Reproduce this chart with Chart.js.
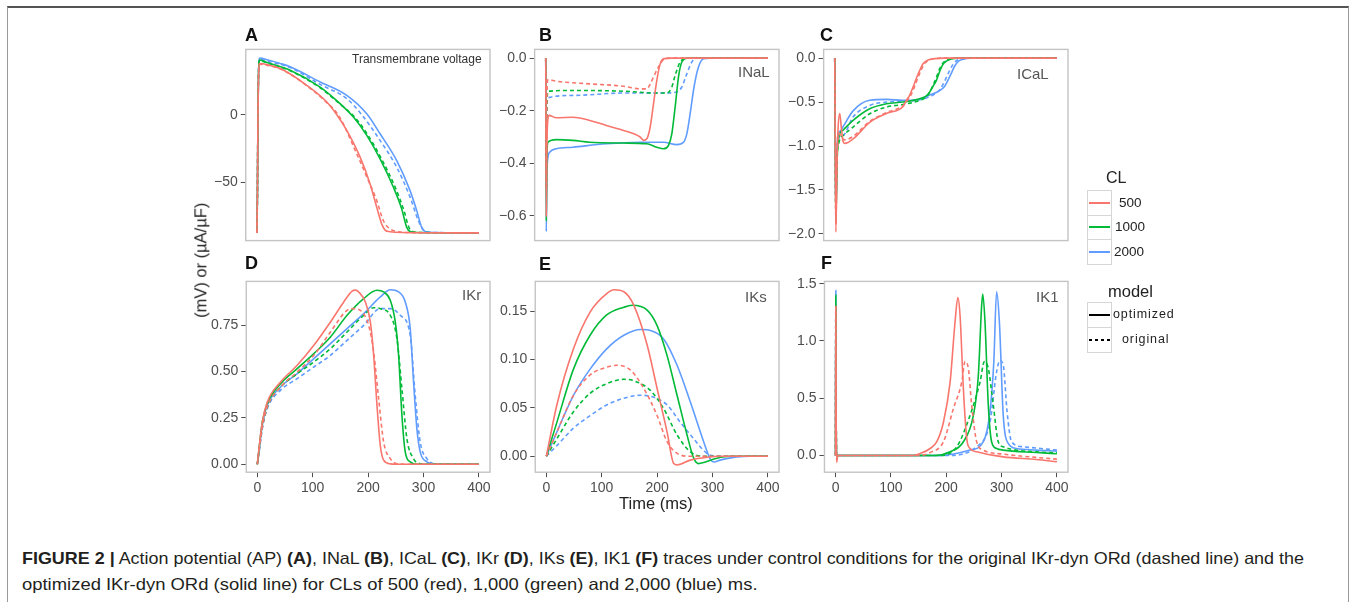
<!DOCTYPE html>
<html><head><meta charset="utf-8">
<script src="https://cdn.jsdelivr.net/npm/chart.js@4"></script>
<style>
html,body{margin:0;padding:0;background:#fff;}
body{width:1358px;height:602px;position:relative;overflow:hidden;font-family:"Liberation Sans",Arial,sans-serif;}
.t{position:absolute;white-space:nowrap;line-height:1;}
#frame{position:absolute;left:7px;top:6px;width:1342px;height:700px;border:1.5px solid #9a9a9a;border-top:2px solid #555;box-sizing:border-box;}
.key{position:absolute;left:1087px;width:25px;border:1px solid #d6d6d6;box-sizing:border-box;background:#fff;}
.kl{position:absolute;left:1089px;width:21px;height:2px;}
.cap{position:absolute;left:22px;white-space:nowrap;font-size:16.5px;line-height:1;color:#231f20;transform-origin:0 50%;}
.cap b{font-weight:bold;}
</style></head><body>
<div id="frame"></div>
<script>
// ---------- axis ticks ----------
const xTicks = [0, 100, 200, 300, 400];
const xLabels = ['0', '100', '200', '300', '400'];
const ticksA = [-50, 0];            const labelsA = ['\u221250', '0'];
const ticksB = [-0.6, -0.4, -0.2, 0]; const labelsB = ['\u22120.6', '\u22120.4', '\u22120.2', '0.0'];
const ticksC = [-2, -1.5, -1, -0.5, 0]; const labelsC = ['\u22122.0', '\u22121.5', '\u22121.0', '\u22120.5', '0.0'];
const ticksD = [0, 0.25, 0.5, 0.75];  const labelsD = ['0.00', '0.25', '0.50', '0.75'];
const ticksE = [0, 0.05, 0.1, 0.15];  const labelsE = ['0.00', '0.05', '0.10', '0.15'];
const ticksF = [0, 0.5, 1, 1.5];      const labelsF = ['0.0', '0.5', '1.0', '1.5'];
const panelTitles = ['Transmembrane voltage', 'INaL', 'ICaL', 'IKr', 'IKs', 'IK1'];
const panelLetters = ['A', 'B', 'C', 'D', 'E', 'F'];
const clLevels = ['500', '1000', '2000'];
const modelLevels = ['optimized', 'original'];

// ---------- A: transmembrane voltage (mV) [time ms, value] ----------
const apOpt500 = [[0,-87.5],[1,-60],[2,0],[3,28],[5,38],[20,37],[42,34.2],[90,21.8],[126,9.4],[144,0],[162,-11.6],[186,-31.4],[204,-51.2],[216,-68.6],[225,-81],[231,-85.4],[240,-86.6],[260,-87.2],[400,-87.5]];
const apOrig500 = [[0,-87.5],[1,-60],[2,0],[3,28],[5,37.5],[20,36.5],[42,34],[90,21.5],[126,9],[148,-1],[180,-29],[201,-48.8],[216,-63.6],[228,-78.5],[240,-84.6],[252,-86.4],[270,-87.2],[400,-87.5]];
const apOpt1000 = [[0,-87.5],[1,-60],[2,0],[3,30],[5,40.5],[20,38.5],[60,33],[114,20.5],[150,8.2],[174,-1.7],[198,-15.3],[222,-32.7],[246,-53.7],[261,-69.8],[270,-83.4],[276,-86.4],[290,-87.2],[400,-87.5]];
const apOrig1000 = [[0,-87.5],[1,-60],[2,0],[3,30],[5,40],[20,38.2],[60,32.5],[114,20],[150,7.8],[176,-1.7],[200,-15],[225,-33],[250,-54.5],[265,-71],[274,-83.5],[281,-86.5],[295,-87.2],[400,-87.5]];
const apOpt2000 = [[0,-87.5],[1,-60],[2,0],[3,30],[5,42],[20,40.5],[42,38],[60,35.5],[114,24.3],[162,14.4],[198,0.7],[222,-14.1],[252,-33.9],[276,-56.2],[288,-71],[297,-83.4],[303,-86.4],[320,-87.2],[400,-87.5]];
const apOrig2000 = [[0,-87.5],[1,-60],[2,0],[3,30],[5,41],[20,39.5],[60,35],[114,22.5],[162,11.9],[189,0],[222,-19],[252,-38.9],[276,-61],[291,-78.5],[300,-85.4],[309,-86.8],[330,-87.3],[400,-87.5]];

// ---------- B: INaL ----------
const nalOpt500 = [[0,0],[1,-0.6],[2,-0.35],[4,-0.23],[6,-0.218],[19,-0.227],[49,-0.225],[79,-0.237],[109,-0.256],[140,-0.275],[170,-0.3],[176,-0.313],[182,-0.307],[188,-0.263],[194,-0.174],[200,-0.085],[206,-0.022],[212,-0.003],[225,0],[400,0]];
const nalOrig500 = [[0,0],[1,-0.5],[2,-0.15],[4,-0.082],[19,-0.088],[79,-0.098],[140,-0.107],[170,-0.117],[182,-0.117],[188,-0.1],[194,-0.072],[203,-0.034],[212,-0.006],[225,0],[400,0]];
const nalOpt1000 = [[0,0],[1,-0.62],[2,-0.4],[4,-0.32],[19,-0.31],[49,-0.313],[79,-0.32],[140,-0.323],[182,-0.326],[200,-0.339],[212,-0.345],[221,-0.332],[227,-0.288],[233,-0.186],[239,-0.072],[245,-0.015],[255,0],[400,0]];
const nalOrig1000 = [[0,0],[1,-0.5],[2,-0.2],[4,-0.126],[49,-0.123],[140,-0.126],[200,-0.133],[218,-0.133],[227,-0.11],[233,-0.066],[242,-0.015],[255,0],[400,0]];
const nalOpt2000 = [[0,0],[1,-0.66],[2,-0.45],[4,-0.377],[7,-0.358],[19,-0.345],[49,-0.339],[109,-0.326],[170,-0.32],[212,-0.32],[236,-0.329],[248,-0.32],[254,-0.288],[260,-0.212],[267,-0.11],[275,-0.034],[284,-0.003],[295,0],[400,0]];
const nalOrig2000 = [[0,0],[1,-0.5],[2,-0.2],[4,-0.151],[49,-0.142],[140,-0.133],[212,-0.133],[236,-0.129],[245,-0.11],[254,-0.06],[263,-0.015],[272,0],[400,0]];

// ---------- C: ICaL ----------
const calOpt500 = [[0,0],[1,-1.0],[2,-1.98],[4,-1.2],[6,-0.8],[9,-0.63],[12,-0.8],[15,-0.95],[18,-0.97],[33,-0.92],[63,-0.73],[93,-0.63],[123,-0.55],[129,-0.48],[135,-0.42],[141,-0.33],[147,-0.23],[153,-0.14],[159,-0.065],[168,-0.022],[180,-0.006],[195,0],[400,0]];
const calOrig500 = [[0,0],[1,-1.0],[2,-1.9],[4,-1.2],[7,-0.85],[12,-0.9],[18,-0.93],[33,-0.89],[63,-0.72],[93,-0.62],[123,-0.54],[131,-0.48],[138,-0.41],[144,-0.32],[150,-0.22],[156,-0.13],[162,-0.06],[171,-0.02],[183,-0.005],[198,0],[400,0]];
const calOpt1000 = [[0,0],[1,-1.0],[2,-1.85],[4,-1.2],[6,-0.95],[9,-0.86],[15,-0.82],[33,-0.708],[63,-0.576],[93,-0.519],[123,-0.5],[153,-0.462],[165,-0.43],[171,-0.386],[177,-0.32],[183,-0.254],[189,-0.15],[195,-0.07],[201,-0.034],[210,-0.01],[222,0],[400,0]];
const calOrig1000 = [[0,0],[1,-1.0],[2,-1.8],[4,-1.2],[8,-0.95],[15,-0.88],[33,-0.784],[63,-0.633],[93,-0.557],[123,-0.527],[153,-0.481],[165,-0.44],[171,-0.39],[177,-0.31],[183,-0.22],[189,-0.12],[195,-0.055],[204,-0.015],[215,0],[400,0]];
const calOpt2000 = [[0,0],[1,-1.0],[2,-1.75],[4,-1.1],[6,-0.86],[10,-0.83],[15,-0.78],[33,-0.6],[63,-0.48],[93,-0.47],[123,-0.48],[150,-0.47],[171,-0.42],[189,-0.37],[198,-0.32],[204,-0.25],[210,-0.17],[216,-0.09],[222,-0.04],[230,-0.015],[245,0],[400,0]];
const calOrig2000 = [[0,0],[1,-1.0],[2,-1.7],[4,-1.1],[8,-0.9],[15,-0.88],[33,-0.67],[63,-0.538],[93,-0.5],[123,-0.489],[153,-0.473],[177,-0.42],[189,-0.36],[195,-0.3],[201,-0.22],[207,-0.14],[213,-0.07],[219,-0.03],[228,-0.01],[240,0],[400,0]];

// ---------- D: IKr ----------
const krOpt500 = [[0,0],[3,0.085],[9,0.228],[18,0.336],[42,0.444],[72,0.534],[102,0.642],[132,0.768],[156,0.876],[171,0.935],[177,0.94],[183,0.93],[195,0.876],[204,0.768],[210,0.588],[216,0.318],[222,0.1],[228,0.022],[240,0.002],[260,0],[400,0]];
const krOrig500 = [[0,0],[3,0.07],[9,0.2],[18,0.31],[42,0.417],[72,0.498],[102,0.588],[132,0.714],[162,0.831],[174,0.84],[189,0.822],[201,0.75],[210,0.606],[219,0.354],[228,0.12],[240,0.03],[252,0.003],[270,0],[400,0]];
const krOpt1000 = [[0,0],[3,0.08],[9,0.228],[18,0.327],[42,0.435],[72,0.516],[102,0.597],[132,0.687],[162,0.804],[192,0.894],[216,0.939],[228,0.93],[240,0.885],[249,0.768],[255,0.588],[261,0.264],[267,0.067],[276,0.013],[290,0],[400,0]];
const krOrig1000 = [[0,0],[3,0.07],[9,0.2],[18,0.31],[42,0.417],[72,0.489],[102,0.552],[132,0.624],[162,0.714],[192,0.804],[210,0.845],[222,0.84],[240,0.804],[252,0.678],[261,0.408],[270,0.138],[282,0.03],[294,0.003],[310,0],[400,0]];
const krOpt2000 = [[0,0],[3,0.07],[9,0.21],[18,0.318],[42,0.417],[72,0.489],[102,0.57],[132,0.651],[162,0.732],[192,0.813],[222,0.903],[240,0.942],[255,0.93],[267,0.876],[276,0.732],[282,0.444],[288,0.192],[294,0.067],[306,0.013],[318,0.002],[330,0],[400,0]];
const krOrig2000 = [[0,0],[3,0.06],[9,0.192],[18,0.3],[42,0.4],[72,0.462],[102,0.525],[132,0.588],[162,0.669],[192,0.75],[222,0.84],[240,0.84],[258,0.804],[276,0.696],[285,0.372],[294,0.12],[306,0.03],[318,0.003],[335,0],[400,0]];

// ---------- E: IKs ----------
const ksOpt500 = [[0,0],[19,0.053],[49,0.111],[79,0.149],[109,0.168],[122,0.172],[140,0.17],[158,0.156],[182,0.115],[200,0.07],[218,0.025],[230,-0.0076],[236,-0.009],[260,-0.004],[290,-0.001],[320,0],[400,0]];
const ksOrig500 = [[0,0],[19,0.025],[49,0.063],[79,0.084],[109,0.092],[128,0.094],[152,0.089],[176,0.07],[200,0.042],[218,0.015],[236,0.003],[260,0],[400,0]];
const ksOpt1000 = [[0,0],[19,0.035],[49,0.09],[79,0.125],[109,0.146],[140,0.154],[155,0.156],[182,0.151],[200,0.135],[218,0.104],[236,0.063],[254,0.022],[266,-0.002],[275,-0.0076],[284,-0.0065],[308,-0.002],[332,0],[400,0]];
const ksOrig1000 = [[0,0],[19,0.018],[49,0.046],[79,0.065],[109,0.075],[140,0.0795],[158,0.078],[188,0.068],[212,0.049],[236,0.022],[260,0.0045],[284,0],[400,0]];
const ksOpt2000 = [[0,0],[19,0.025],[49,0.063],[79,0.09],[109,0.111],[140,0.125],[170,0.131],[188,0.13],[212,0.121],[236,0.094],[260,0.056],[284,0.015],[296,-0.003],[302,-0.006],[314,-0.004],[344,-0.0007],[370,0],[400,0]];
const ksOrig2000 = [[0,0],[19,0.011],[49,0.029],[79,0.042],[109,0.053],[140,0.06],[170,0.063],[194,0.061],[218,0.053],[242,0.035],[266,0.018],[284,0.006],[296,0.001],[320,0],[400,0]];

// ---------- F: IK1 ----------
const k1Opt500 = [[0,0],[0.5,1.3],[1,0.5],[2,-0.06],[4,0],[140,0],[153,0.017],[171,0.061],[183,0.12],[195,0.29],[207,0.64],[216,1.17],[221,1.38],[225,1.22],[231,0.58],[237,0.15],[243,0.061],[255,0.032],[303,-0.012],[363,-0.035],[400,-0.055]];
const k1Orig500 = [[0,0],[0.5,1.3],[1,0.5],[2,-0.04],[4,0],[150,0],[171,0.026],[195,0.12],[213,0.41],[228,0.64],[234,0.82],[240,0.76],[246,0.44],[255,0.12],[267,0.047],[303,0.012],[363,-0.017],[400,-0.032]];
const k1Opt1000 = [[0,0],[0.5,1.4],[1,0.5],[2,-0.03],[4,0],[180,0],[207,0.032],[231,0.12],[249,0.35],[258,0.7],[264,1.31],[266,1.41],[270,1.17],[276,0.44],[282,0.12],[291,0.061],[303,0.047],[363,0.026],[400,0.015]];
const k1Orig1000 = [[0,0],[0.5,1.3],[1,0.5],[2,-0.02],[4,0],[190,0],[219,0.076],[243,0.35],[261,0.64],[269,0.82],[276,0.76],[285,0.44],[294,0.12],[303,0.076],[363,0.032],[400,0.023]];
const k1Opt2000 = [[0,0],[0.5,1.44],[1,0.5],[2,-0.01],[4,0],[190,0],[243,0.047],[267,0.12],[279,0.38],[286,0.82],[291,1.43],[296,1.17],[303,0.35],[312,0.105],[327,0.061],[363,0.047],[400,0.038]];
const k1Orig2000 = [[0,0],[0.5,1.3],[1,0.5],[2,0],[4,0],[200,0],[255,0.076],[279,0.29],[291,0.73],[297,0.83],[303,0.79],[310,0.38],[318,0.12],[339,0.076],[400,0.047]];

// ---------- styles / layout ----------
const clColors = ['#F8766D', '#00BA38', '#619CFF'];
const TICK_COLOR = '#4d4d4d';
Chart.defaults.font.family = '"Liberation Sans", Arial, sans-serif';

const panels = [
  {box:[246,49,244,191], y:[-93.2,48.4], yt:ticksA, yl:labelsA, xAxis:false, s:[[apOpt500,apOrig500],[apOpt1000,apOrig1000],[apOpt2000,apOrig2000]]},
  {box:[535,49,244,191], y:[-0.694,0.033], yt:ticksB, yl:labelsB, xAxis:false, s:[[nalOpt500,nalOrig500],[nalOpt1000,nalOrig1000],[nalOpt2000,nalOrig2000]]},
  {box:[824,49,244,191], y:[-2.076,0.099], yt:ticksC, yl:labelsC, xAxis:false, s:[[calOpt500,calOrig500],[calOpt1000,calOrig1000],[calOpt2000,calOrig2000]]},
  {box:[246,281,244,191], y:[-0.043,0.987], yt:ticksD, yl:labelsD, xAxis:true, s:[[krOpt500,krOrig500],[krOpt1000,krOrig1000],[krOpt2000,krOrig2000]]},
  {box:[535,281,244,191], y:[-0.0165,0.1807], yt:ticksE, yl:labelsE, xAxis:true, s:[[ksOpt500,ksOrig500],[ksOpt1000,ksOrig1000],[ksOpt2000,ksOrig2000]]},
  {box:[824,281,244,191], y:[-0.146,1.52], yt:ticksF, yl:labelsF, xAxis:true, s:[[k1Opt500,k1Orig500],[k1Opt1000,k1Orig1000],[k1Opt2000,k1Orig2000]]}
];

const boxPlugin = {
  id: 'panelBox',
  afterDatasetsDraw(chart) {
    const {ctx, chartArea: a} = chart;
    ctx.save();
    ctx.strokeStyle = '#c4c4c4';
    ctx.lineWidth = 1.4;
    ctx.strokeRect(a.left, a.top, a.right - a.left, a.bottom - a.top);
    ctx.restore();
  }
};

function makeConfig(p) {
  const datasets = [];
  p.s.forEach((pair, ci) => {
    pair.forEach((ser, mi) => {
      datasets.push({
        data: ser.map(d => ({x: d[0], y: d[1]})),
        borderColor: clColors[ci],
        borderWidth: 1.6,
        borderDash: mi === 1 ? [4, 3] : [],
        pointRadius: 0,
        fill: false,
        cubicInterpolationMode: 'monotone'
      });
    });
  });
  const axisCommon = {
    grid: {drawOnChartArea: false, drawTicks: true, tickLength: 5, color: TICK_COLOR, lineWidth: 1},
    border: {display: false}
  };
  return {
    type: 'line',
    data: {datasets},
    plugins: [boxPlugin],
    options: {
      responsive: false, maintainAspectRatio: false, animation: false,
      layout: {padding: {top: 4, right: 16, bottom: 2, left: 2}},
      plugins: {legend: {display: false}, tooltip: {enabled: false}},
      scales: {
        x: Object.assign({
          type: 'linear', min: -20, max: 420, display: p.xAxis,
          afterBuildTicks: s => { s.ticks = xTicks.map(v => ({value: v})); },
          ticks: {callback: (v, i) => xLabels[i], color: TICK_COLOR, font: {size: 14}, padding: 3, maxRotation: 0, autoSkip: false}
        }, axisCommon),
        y: Object.assign({
          type: 'linear', min: p.y[0], max: p.y[1],
          afterBuildTicks: s => { s.ticks = p.yt.map(v => ({value: v})); },
          ticks: {callback: (v, i) => p.yl[i], color: TICK_COLOR, font: {size: 14}, padding: 3, autoSkip: false}
        }, axisCommon)
      }
    }
  };
}

function build(p) {
  let cw = p.box[2] + 62, ch = p.box[3] + (p.xAxis ? 30 : 8);
  let chart = null, cv = null;
  for (let k = 0; k < 4; k++) {
    if (chart) { chart.destroy(); cv.remove(); }
    cv = document.createElement('canvas');
    cv.width = Math.round(cw); cv.height = Math.round(ch);
    cv.style.cssText = 'position:absolute;left:0;top:0;width:' + cv.width + 'px;height:' + cv.height + 'px;';
    document.body.appendChild(cv);
    chart = new Chart(cv.getContext('2d'), makeConfig(p));
    const a = chart.chartArea;
    const dw = p.box[2] - (a.right - a.left), dh = p.box[3] - (a.bottom - a.top);
    if (Math.abs(dw) < 0.5 && Math.abs(dh) < 0.5) break;
    cw += dw; ch += dh;
  }
  const a = chart.chartArea;
  cv.style.left = (p.box[0] - a.left) + 'px';
  cv.style.top = (p.box[1] - a.top) + 'px';
}
panels.forEach(build);

// ---------- text helpers ----------
function addText(str, x, cy, o) {
  const d = document.createElement('div');
  d.className = 't';
  d.textContent = str;
  d.style.fontSize = o.size + 'px';
  d.style.color = o.color || '#222';
  if (o.weight) d.style.fontWeight = o.weight;
  if (o.ls) d.style.letterSpacing = o.ls + 'px';
  document.body.appendChild(d);
  const w = d.offsetWidth, h = d.offsetHeight;
  if (o.rotate) {
    d.style.left = (x - w / 2) + 'px';
    d.style.top = (cy - h / 2) + 'px';
    d.style.transform = 'rotate(-90deg)';
  } else {
    const left = o.align === 'right' ? x - w : (o.align === 'center' ? x - w / 2 : x);
    d.style.left = left + 'px';
    d.style.top = (cy - o.size * 0.49) + 'px';
  }
  return d;
}

// panel letters
const letterPos = [[245,34.5],[539,34.5],[820,34.5],[245,262.5],[539,263.5],[821,262.5]];
panelLetters.forEach((L, i) => addText(L, letterPos[i][0], letterPos[i][1], {size: 18, weight: 'bold', color: '#111'}));

// in-panel titles
addText(panelTitles[0], 482, 58.5, {size: 12, color: '#333', align: 'right'});
const titlePos = [null, [770,71.7], [1049,73.3], [481,294.5], [767,296.7], [1059,296.2]];
for (let i = 1; i < 6; i++) addText(panelTitles[i], titlePos[i][0], titlePos[i][1], {size: 15, color: '#555', align: 'right'});

// axis titles
addText('(mV) or (\u00b5A/\u00b5F)', 200, 260, {size: 16.5, color: '#222', rotate: true});
addText('Time (ms)', 656, 503, {size: 16.5, color: '#222', align: 'center'});

// ---------- legend ----------
addText('CL', 1106, 178, {size: 16, color: '#222'});
const clRowTop = [190, 214.5, 239];
const clLabelX = [1119, 1115, 1114];
clLevels.forEach((lv, i) => {
  const k = document.createElement('div'); k.className = 'key';
  k.style.top = clRowTop[i] + 'px'; k.style.height = '25.5px';
  document.body.appendChild(k);
  const l = document.createElement('div'); l.className = 'kl';
  l.style.top = (clRowTop[i] + 11.5) + 'px'; l.style.background = clColors[i];
  document.body.appendChild(l);
  addText(lv, clLabelX[i], clRowTop[i] + 12.5, {size: 13.5, color: '#222'});
});
addText('model', 1108, 291, {size: 16.5, color: '#222'});
const mRowTop = [302, 327];
const mLabelX = [1113, 1122];
modelLevels.forEach((lv, i) => {
  const k = document.createElement('div'); k.className = 'key';
  k.style.top = mRowTop[i] + 'px'; k.style.height = '25.5px';
  document.body.appendChild(k);
  const l = document.createElement('div'); l.className = 'kl';
  l.style.top = (mRowTop[i] + 11.5) + 'px';
  l.style.background = i === 0 ? '#000' : 'repeating-linear-gradient(90deg,#000 0 3px,transparent 3px 6px)';
  document.body.appendChild(l);
  addText(lv, mLabelX[i], mRowTop[i] + 12.5, {size: 12.5, color: '#222', ls: 0.9});
});

// ---------- caption ----------
const cap1 = document.createElement('div'); cap1.className = 'cap';
cap1.innerHTML = '<b>FIGURE 2 |</b> Action potential (AP) <b>(A)</b>, INaL <b>(B)</b>, ICaL <b>(C)</b>, IKr <b>(D)</b>, IKs <b>(E)</b>, IK1 <b>(F)</b> traces under control conditions for the original IKr-dyn ORd (dashed line) and the';
const cap2 = document.createElement('div'); cap2.className = 'cap';
cap2.textContent = 'optimized IKr-dyn ORd (solid line) for CLs of 500 (red), 1,000 (green) and 2,000 (blue) ms.';
document.body.appendChild(cap1); document.body.appendChild(cap2);
cap1.style.top = (558 - 8.2) + 'px';
cap2.style.top = (584 - 8.2) + 'px';
cap1.style.transform = 'scaleX(' + (1282 / cap1.offsetWidth) + ')';
cap2.style.transform = 'scaleX(' + (735 / cap2.offsetWidth) + ')';
</script>
</body></html>
